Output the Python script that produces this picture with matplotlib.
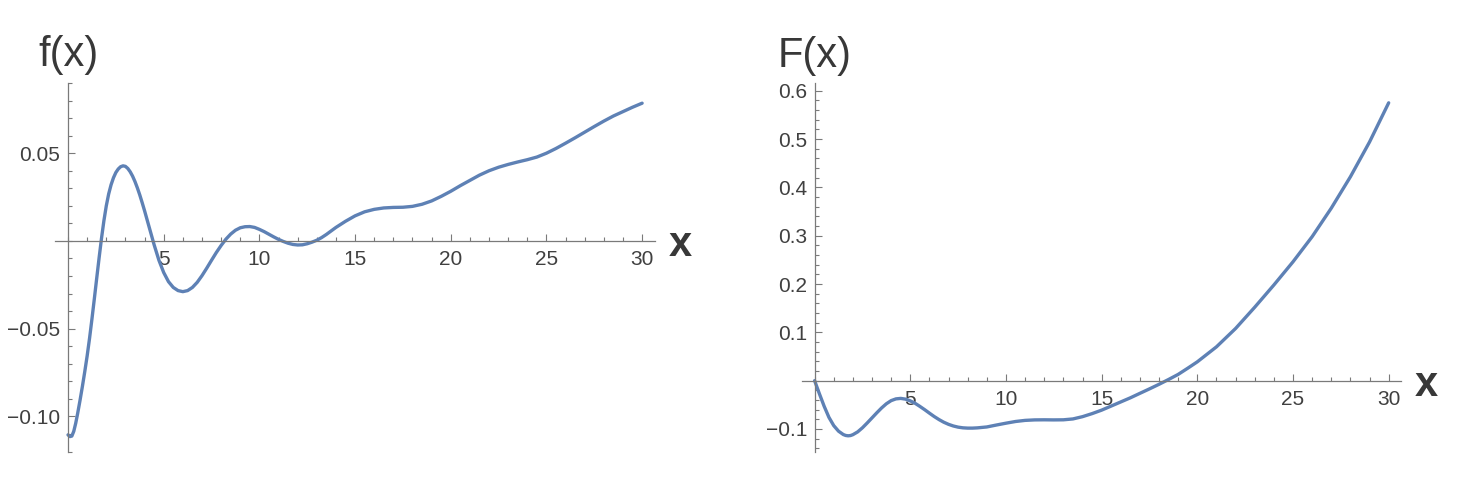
import matplotlib.pyplot as plt
from matplotlib.ticker import MultipleLocator

# f(x)
f_x = [0, 0.1, 0.2, 0.3, 0.4, 0.5, 0.625, 0.75, 0.875, 1.0, 1.125, 1.25, 1.375, 1.5,
       1.625, 1.75, 1.875, 2.0, 2.125, 2.25, 2.375, 2.5, 2.625, 2.75, 2.875, 3.0,
       3.125, 3.25, 3.375, 3.5, 3.625, 3.75, 3.875, 4.0, 4.25, 4.5, 4.75, 5.0, 5.25,
       5.5, 5.75, 6.0, 6.25, 6.5, 6.75, 7.0, 7.25, 7.5, 7.75, 8.0, 8.25, 8.5, 8.75,
       9.0, 9.25, 9.5, 9.75, 10.0, 10.25, 10.5, 10.75, 11.0, 11.25, 11.5, 11.75, 12.0,
       12.25, 12.5, 12.75, 13.0, 13.25, 13.5, 13.75, 14.0, 14.5, 15.0, 15.5, 16.0,
       16.5, 17.0, 17.5, 18.0, 18.5, 19.0, 19.5, 20.0, 20.5, 21.0, 21.5, 22.0, 22.5,
       23.0, 23.5, 24.0, 24.5, 25.0, 25.5, 26.0, 26.5, 27.0, 27.5, 28.0, 28.5, 29.0,
       29.5, 30.0]
f_y = [-0.1105, -0.1115, -0.1112, -0.1085, -0.1040, -0.0985, -0.0910, -0.0830,
       -0.0745, -0.0655, -0.0555, -0.0445, -0.0330, -0.0212, -0.0096, 0.0015, 0.0115,
       0.0200, 0.0268, 0.0320, 0.0360, 0.0390, 0.0410, 0.0423, 0.0428, 0.0425, 0.0413,
       0.0394, 0.0369, 0.0338, 0.0302, 0.0262, 0.0218, 0.0172, 0.0075, -0.0022,
       -0.0110, -0.0180, -0.0232, -0.0265, -0.0283, -0.0289, -0.0283, -0.0265, -0.0236,
       -0.0198, -0.0155, -0.0110, -0.0066, -0.0026, 0.0010, 0.0039, 0.0061, 0.0075,
       0.0081, 0.0082, 0.0077, 0.0066, 0.0053, 0.0038, 0.0023, 0.0009, -0.0003,
       -0.0013, -0.0020, -0.0023, -0.0022, -0.0016, -0.0007, 0.0004, 0.0019, 0.0037,
       0.0057, 0.0077, 0.0112, 0.0143, 0.0166, 0.0180, 0.0188, 0.0191, 0.0192, 0.0197,
       0.0209, 0.0228, 0.0254, 0.0283, 0.0315, 0.0345, 0.0375, 0.0400, 0.0420, 0.0436,
       0.0450, 0.0463, 0.0478, 0.0500, 0.0527, 0.0557, 0.0588, 0.0620, 0.0652, 0.0683,
       0.0712, 0.0737, 0.0762, 0.0785]

# F(x)
F_x = [0, 0.25, 0.5, 0.75, 1.0, 1.25, 1.5, 1.625, 1.75, 1.875, 2.0, 2.25, 2.5, 2.75,
       3.0, 3.25, 3.5, 3.75, 4.0, 4.25, 4.5, 4.75, 5.0, 5.25, 5.5, 5.75, 6.0, 6.25,
       6.5, 6.75, 7.0, 7.25, 7.5, 7.75, 8.0, 8.25, 8.5, 9.0, 9.5, 10.0, 10.5, 11.0,
       11.5, 12.0, 12.5, 13.0, 13.5, 14.0, 14.5, 15.0, 15.5, 16.0, 16.5, 17.0, 17.5,
       18.0, 18.5, 19.0, 19.5, 20.0, 21.0, 22.0, 23.0, 24.0, 25.0, 26.0, 27.0, 28.0,
       29.0, 30.0]
F_y = [0, -0.027, -0.053, -0.076, -0.093, -0.1045, -0.1115, -0.1134, -0.1141,
       -0.1136, -0.1118, -0.1060, -0.0975, -0.0875, -0.0770, -0.0665, -0.0565, -0.0478,
       -0.0413, -0.0377, -0.0367, -0.0382, -0.0418, -0.0468, -0.0532, -0.0600, -0.0672,
       -0.0742, -0.0805, -0.0860, -0.0904, -0.0938, -0.0962, -0.0976, -0.0982, -0.0982,
       -0.0977, -0.0958, -0.0918, -0.0880, -0.0845, -0.0822, -0.0812, -0.0810, -0.0812,
       -0.0810, -0.0792, -0.0745, -0.0682, -0.0610, -0.0525, -0.0440, -0.0355, -0.0262,
       -0.0170, -0.0075, 0.0025, 0.0130, 0.0258, 0.0390, 0.0700, 0.1080, 0.1520, 0.1980,
       0.2460, 0.2980, 0.3570, 0.4220, 0.4940, 0.5750]

x_ticks = [5, 10, 15, 20, 25, 30]
x_labels = ["5", "10", "15", "20", "25", "30"]
f_ticks = [-0.10, -0.05, 0.05]
f_labels = ["\u22120.10", "\u22120.05", "0.05"]
F_ticks = [-0.1, 0.1, 0.2, 0.3, 0.4, 0.5, 0.6]
F_labels = ["\u22120.1", "0.1", "0.2", "0.3", "0.4", "0.5", "0.6"]

plt.rcParams['font.family'] = ['Liberation Sans', 'DejaVu Sans']

LINE = '#5e81b5'
AXIS = '#7a7a7a'
TEXT = '#404040'
LABEL = '#383838'


def style_axis(ax, xlim, ylim, yticks, ylabels, yminor, ylab):
    ax.set_xlim(*xlim)
    ax.set_ylim(*ylim)
    for s in ('top', 'right'):
        ax.spines[s].set_visible(False)
    for s in ('left', 'bottom'):
        ax.spines[s].set_position(('data', 0))
        ax.spines[s].set_color(AXIS)
        ax.spines[s].set_linewidth(0.9)
    ax.set_xticks(x_ticks, x_labels)
    ax.set_yticks(yticks, ylabels)
    ax.xaxis.set_minor_locator(MultipleLocator(1))
    ax.yaxis.set_minor_locator(MultipleLocator(yminor))
    ax.tick_params(which='both', direction='in', color=AXIS, width=0.8,
                   labelsize=15, labelcolor=TEXT)
    ax.tick_params(which='major', length=4.8)
    ax.tick_params(which='minor', length=2.8)
    ax.tick_params(axis='x', pad=6.5)
    ax.tick_params(axis='y', pad=5.5)
    ax.annotate(ylab, xy=(0, ylim[1]), xytext=(0, 12), textcoords='offset points',
                ha='center', va='baseline', fontsize=30, color=LABEL)
    ax.annotate('x', xy=(xlim[1], 0), xytext=(18, -11), textcoords='offset points',
                ha='center', va='baseline', fontsize=30, color=LABEL,
                fontweight='bold')


fig = plt.figure(figsize=(14.59, 4.79), dpi=100)

ax1 = fig.add_axes([0.0377, 0.0574, 0.4112, 0.7693])
ax1.plot(f_x, f_y, color=LINE, lw=2.4, solid_capstyle='round', solid_joinstyle='round')
style_axis(ax1, (-0.68, 30.67), (-0.12, 0.09), f_ticks, f_labels, 0.01, 'f(x)')

ax2 = fig.add_axes([0.5498, 0.0570, 0.4104, 0.7687])
ax2.plot(F_x, F_y, color=LINE, lw=2.4, solid_capstyle='round', solid_joinstyle='round')
style_axis(ax2, (-0.65, 30.64), (-0.147, 0.615), F_ticks, F_labels, 0.02, 'F(x)')

fig.savefig('out.png', dpi=100)
plt.close(fig)
